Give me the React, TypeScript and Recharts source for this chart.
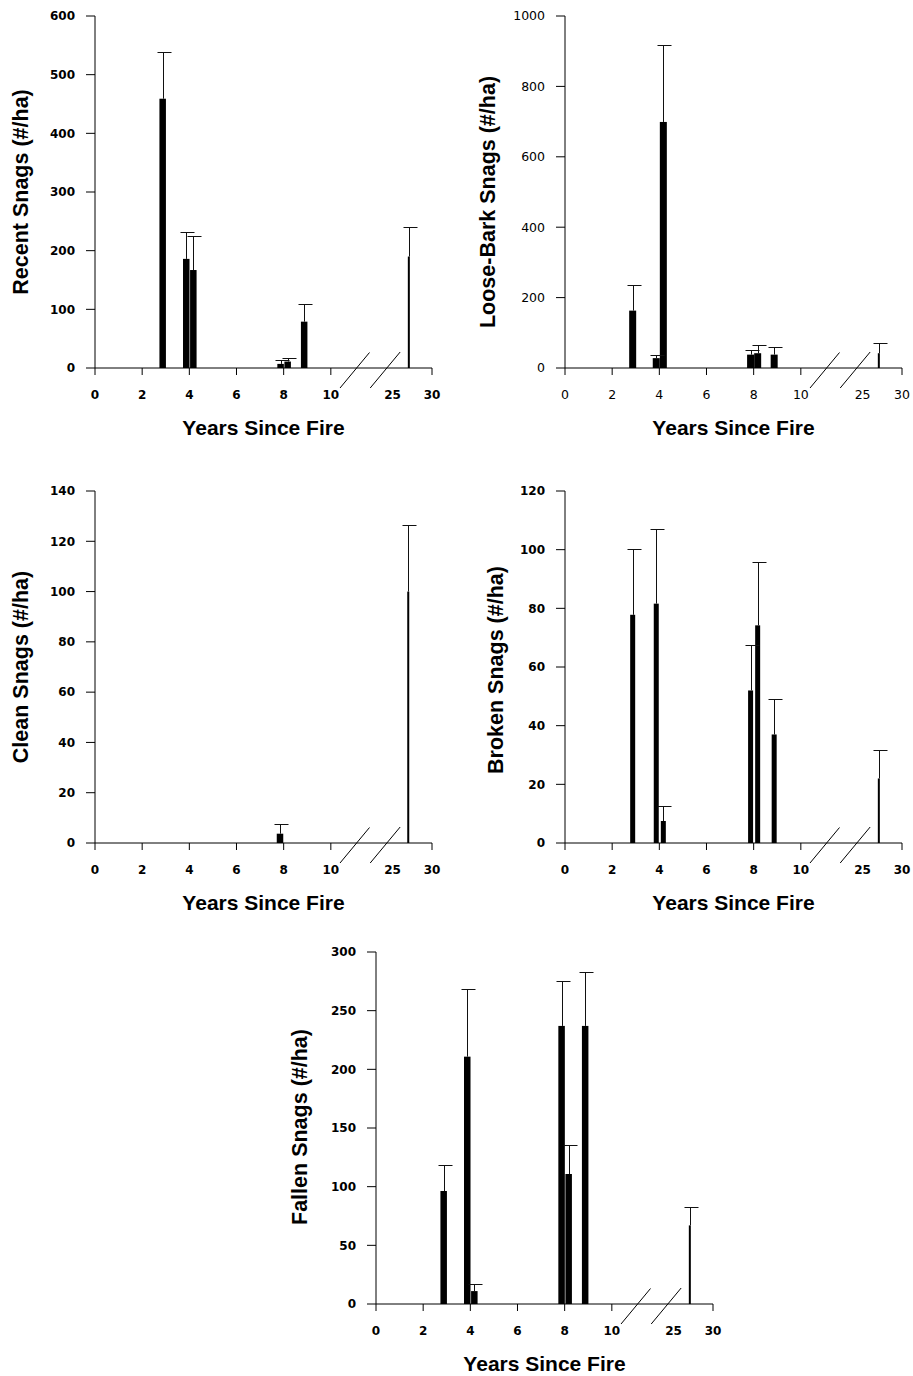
import { BarChart, Bar, XAxis, YAxis, Label } from "recharts";

// year of each sampled burn; the last one sits past the axis break
const YEARS = [2.85, 3.85, 4.15, 7.85, 8.15, 8.85, 27];
const X_TICK_YEARS = [0, 2, 4, 6, 8, 10, 25, 30];

const RECENT_MEAN = [459, 186, 167, 7, 11, 79, 190];
const RECENT_SE = [80, 46, 58, 6, 6, 30, 50];
const RECENT_TICKS = [0, 100, 200, 300, 400, 500, 600];

const LOOSE_MEAN = [163, 28, 699, 38, 42, 38, 42];
const LOOSE_SE = [72, 10, 220, 14, 24, 22, 28];
const LOOSE_TICKS = [0, 200, 400, 600, 800, 1000];

const CLEAN_MEAN = [null, null, null, 3.7, null, null, 100];
const CLEAN_SE = [null, null, null, 3.7, null, null, 26.3];
const CLEAN_TICKS = [0, 20, 40, 60, 80, 100, 120, 140];

const BROKEN_MEAN = [77.8, 81.6, 7.5, 52, 74.2, 37, 22];
const BROKEN_SE = [22.5, 25.4, 5.1, 15.6, 21.5, 12.2, 9.8];
const BROKEN_TICKS = [0, 20, 40, 60, 80, 100, 120];

const FALLEN_MEAN = [96.3, 210.8, 11, 237, 110.8, 237, 67];
const FALLEN_SE = [22.2, 57.9, 6, 38, 24.7, 45.7, 16];
const FALLEN_TICKS = [0, 50, 100, 150, 200, 250, 300];

// broken x axis: 0-10 at full scale, then 25-30 squeezed in after a gap
const axisPos = (yr: number) => (yr <= 10 ? yr : 12.62 + (yr - 25) * 0.334);
const X_MAX = axisPos(30);
const X_TICKS = X_TICK_YEARS.map(axisPos);

const TITLE_FONT = "'Liberation Sans', Arial, sans-serif";
const TICK_FONT = "'DejaVu Sans', Verdana, sans-serif";

const PLOT_H = 352;
const MARGIN = { top: 16, right: 10, left: 35, bottom: 20 };

function buildRows(mean: (number | null)[], se: (number | null)[]) {
  return YEARS.map((year, i) => ({ year, pos: axisPos(year), mean: mean[i], se: se[i] })).filter(
    (r) => r.mean != null
  );
}

function meanShape(w: number) {
  return (props: any) => {
    const { x, y, width, height, payload } = props;
    const bw = payload.year > 20 ? 2 : w;
    const cx = x + width / 2;
    return <rect x={cx - bw / 2} y={y} width={bw} height={Math.max(height, 0)} fill="#000" />;
  };
}

function errShape(props: any) {
  const { x, y, width, height } = props;
  const cx = Math.round(x + width / 2) + 0.5;
  const top = Math.round(y) + 0.5;
  return (
    <g stroke="#111" strokeWidth={1}>
      <line x1={cx} x2={cx} y1={top} y2={y + height} />
      <line x1={cx - 6} x2={cx + 8} y1={top} y2={top} />
    </g>
  );
}

function makeXTick(bold: boolean) {
  return (props: any) => {
    const { x, y, index } = props;
    const label = X_TICK_YEARS[index];
    return (
      <g>
        {label !== 25 && <line x1={x} x2={x} y1={y - 7} y2={y} stroke="#000" />}
        <text
          x={x}
          y={y + 24}
          textAnchor="middle"
          fontFamily={TICK_FONT}
          fontWeight={bold ? "bold" : "normal"}
          fontSize={bold ? 12 : 12.5}
          fill="#000"
        >
          {label}
        </text>
      </g>
    );
  };
}

function xTitle(props: any) {
  const { x, y, width } = props.viewBox;
  const px = (u: number) => x + (u / X_MAX) * width;
  return (
    <g>
      <line x1={px(10.39)} y1={y + 20} x2={px(11.64)} y2={y - 15.5} stroke="#000" />
      <line x1={px(11.67)} y1={y + 20} x2={px(12.94)} y2={y - 16} stroke="#000" />
      <text
        x={x + width / 2}
        y={y + 67}
        textAnchor="middle"
        fontFamily={TITLE_FONT}
        fontWeight="bold"
        fontSize={21}
        fill="#000"
      >
        Years Since Fire
      </text>
    </g>
  );
}

function makeYTitle(text: string, dx: number, dy: number) {
  return (props: any) => {
    const { x, y, width, height } = props.viewBox;
    const tx = x + width + dx;
    const ty = y + height / 2 + dy;
    return (
      <text
        x={tx}
        y={ty}
        transform={`rotate(-90 ${tx} ${ty})`}
        textAnchor="middle"
        fontFamily={TITLE_FONT}
        fontWeight="bold"
        fontSize={21.5}
        fill="#000"
      >
        {text}
      </text>
    );
  };
}

interface PanelProps {
  left: number;
  top: number;
  title: string;
  mean: (number | null)[];
  se: (number | null)[];
  ticks: number[];
  boldTicks?: boolean;
  barW?: number;
  titleDx: number;
  titleDy?: number;
}

function Panel({ left, top, title, mean, se, ticks, boldTicks = true, barW = 6.5, titleDx, titleDy = 0 }: PanelProps) {
  const rows = buildRows(mean, se);
  const yMax = ticks[ticks.length - 1];
  return (
    <div style={{ position: "absolute", left, top }}>
      <BarChart width={442} height={MARGIN.top + PLOT_H + 72 + MARGIN.bottom} data={rows} margin={MARGIN}>
        <XAxis
          type="number"
          dataKey="pos"
          domain={[0, X_MAX]}
          ticks={X_TICKS}
          interval={0}
          allowDataOverflow
          height={72}
          tickSize={7}
          tickMargin={0}
          tickLine={false}
          axisLine={{ stroke: "#000" }}
          tick={makeXTick(boldTicks)}
        >
          <Label content={xTitle} />
        </XAxis>
        <YAxis
          type="number"
          domain={[0, yMax]}
          ticks={ticks}
          interval={0}
          width={60}
          tickSize={9}
          tickMargin={11}
          axisLine={{ stroke: "#000" }}
          tickLine={{ stroke: "#000" }}
          tick={{
            fill: "#000",
            fontFamily: TICK_FONT,
            fontWeight: boldTicks ? "bold" : "normal",
            fontSize: boldTicks ? 12 : 12.5,
          }}
        >
          <Label content={makeYTitle(title, titleDx, titleDy)} />
        </YAxis>
        <Bar dataKey="mean" stackId="s" barSize={6} shape={meanShape(barW)} isAnimationActive={false} />
        <Bar dataKey="se" stackId="s" barSize={6} shape={errShape} isAnimationActive={false} />
      </BarChart>
    </div>
  );
}

export default function App() {
  return (
    <div
      style={{
        position: "absolute",
        left: 0,
        top: 0,
        width: 913,
        height: 1376,
        background: "#fff",
        overflow: "hidden",
      }}
    >
      <Panel left={0} top={0} title="Recent Snags (#/ha)" mean={RECENT_MEAN} se={RECENT_SE} ticks={RECENT_TICKS} titleDx={-67} />
      <Panel
        left={470}
        top={0}
        title="Loose-Bark Snags (#/ha)"
        mean={LOOSE_MEAN}
        se={LOOSE_SE}
        ticks={LOOSE_TICKS}
        boldTicks={false}
        barW={7}
        titleDx={-70}
        titleDy={10}
      />
      <Panel left={0} top={475} title="Clean Snags (#/ha)" mean={CLEAN_MEAN} se={CLEAN_SE} ticks={CLEAN_TICKS} titleDx={-67} />
      <Panel
        left={470}
        top={475}
        title="Broken Snags (#/ha)"
        mean={BROKEN_MEAN}
        se={BROKEN_SE}
        ticks={BROKEN_TICKS}
        barW={5}
        titleDx={-62}
        titleDy={3}
      />
      <Panel
        left={281}
        top={936}
        title="Fallen Snags (#/ha)"
        mean={FALLEN_MEAN}
        se={FALLEN_SE}
        ticks={FALLEN_TICKS}
        titleDx={-69}
        titleDy={-1}
      />
    </div>
  );
}
